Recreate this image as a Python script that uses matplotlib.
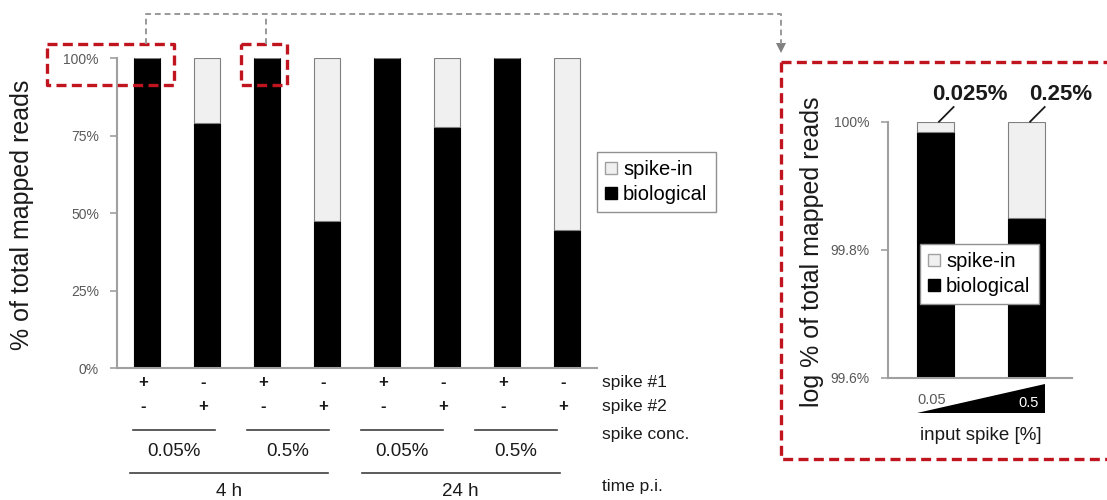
import matplotlib
matplotlib.use("Agg")
import matplotlib.pyplot as plt
from matplotlib.lines import Line2D
from matplotlib.patches import Polygon, Patch
from matplotlib.transforms import blended_transform_factory

plt.rcParams['font.family'] = ['Liberation Sans', 'DejaVu Sans']

# data
biological = [99.98, 79.1, 99.98, 47.4, 99.98, 77.8, 99.98, 44.7]
spike1 = ['+', '-', '+', '-', '+', '-', '+', '-']
spike2 = ['-', '+', '-', '+', '-', '+', '-', '+']
conc_labels = ['0.05%', '0.5%', '0.05%', '0.5%']
time_labels = ['4 h', '24 h']
y_ticks = [0, 25, 50, 75, 100]

inset_bio = [99.984, 99.85]
inset_labels = ['0.025%', '0.25%']
inset_ticks = [99.6, 99.8, 100.0]

W, H = 1107, 500
GREY = '#595959'
SPIKE = '#f0f0f0'
RED = '#c0141e'
INK = '#1a1a1a'

fig = plt.figure(figsize=(W / 100, H / 100), dpi=100)

def fx(x):
    return x / W

def fy(y):
    return 1 - y / H

def style_axis(a):
    a.set_xticks([])
    a.tick_params(axis='y', colors='#a0a0a0', labelcolor=GREY, labelsize=10, length=5,
                  width=1.2, pad=8)
    for s in ['top', 'right']:
        a.spines[s].set_visible(False)
    for s in ['left', 'bottom']:
        a.spines[s].set_color('#a0a0a0')
        a.spines[s].set_linewidth(1.5)

def add_legend(a, x0, y0):
    lg = a.legend(handles=[Patch(facecolor=SPIKE, edgecolor='#a0a0a0', label='spike-in'),
                           Patch(facecolor='black', edgecolor='black', label='biological')],
                  loc='upper left', bbox_to_anchor=(fx(x0), fy(y0)), bbox_transform=fig.transFigure,
                  fontsize=14.5, handlelength=0.6, handleheight=0.6, handletextpad=0.3,
                  fancybox=False, edgecolor='#909090', borderpad=0.4, labelspacing=0.3,
                  borderaxespad=0, framealpha=1)
    lg.get_frame().set_linewidth(1.0)

# ---------------- main chart
ax = fig.add_axes([fx(117), fy(368), fx(597) - fx(117), fy(58.3) - fy(368)])
x = list(range(len(biological)))
spike_in = [100 - b for b in biological]
ax.bar(x, biological, width=0.43, color='black', edgecolor='black', linewidth=0.8, zorder=2)
ax.bar(x, spike_in, width=0.43, bottom=biological, color=SPIKE, edgecolor='#808080',
       linewidth=0.8, zorder=2)
ax.set_xlim(-0.5, 7.5)
ax.set_ylim(0, 100)
ax.set_yticks(y_ticks)
ax.set_yticklabels([f'{t}%' for t in y_ticks])
style_axis(ax)

fig.text(fx(22), fy(215), '% of total mapped reads', rotation=90, ha='center', va='center',
         fontsize=18, color=INK)
add_legend(ax, 597, 152)

# rows under the chart
tr = blended_transform_factory(ax.transData, fig.transFigure)
for i in x:
    ax.text(i - 0.07, fy(383), spike1[i], transform=tr, ha='center', va='center',
            fontsize=12, fontweight='bold', color=INK)
    ax.text(i - 0.07, fy(407), spike2[i], transform=tr, ha='center', va='center',
            fontsize=12, fontweight='bold', color=INK)
for g, lab in enumerate(conc_labels):
    c = 2 * g + 0.5 - 0.1 * g - 0.05
    ax.add_line(Line2D([c - 0.69, c + 0.69], [fy(430), fy(430)], transform=tr,
                       color='#404040', lw=1.2, clip_on=False))
    ax.text(c, fy(451), lab, transform=tr, ha='center', va='center', fontsize=13.5, color=INK)
for g, lab in enumerate(time_labels):
    c = 4 * g + 1.37 - 0.14 * g
    ax.add_line(Line2D([c - 1.65, c + 1.65], [fy(473), fy(473)], transform=tr,
                       color='#404040', lw=1.2, clip_on=False))
    ax.text(c, fy(492), lab, transform=tr, ha='center', va='center', fontsize=13.5, color=INK)

for txt, yy in [('spike #1', 383), ('spike #2', 407), ('spike conc.', 434), ('time p.i.', 487)]:
    fig.text(fx(602), fy(yy), txt, ha='left', va='center', fontsize=12.5, color=INK)

# ---------------- inset
ax2 = fig.add_axes([fx(888), fy(377.7), fx(1072) - fx(888), fy(121.7) - fy(377.7)])
xi = [0, 1]
base = inset_ticks[0]
ax2.bar(xi, [b - base for b in inset_bio], bottom=base, width=0.4, color='black',
        edgecolor='black', linewidth=0.8, zorder=2)
ax2.bar(xi, [100 - b for b in inset_bio], bottom=inset_bio, width=0.4, color=SPIKE,
        edgecolor='#808080', linewidth=0.8, zorder=2)
ax2.set_xlim(-0.52, 1.5)
ax2.set_ylim(inset_ticks[0], inset_ticks[-1])
ax2.set_yticks(inset_ticks)
ax2.set_yticklabels(['99.6%', '99.8%', '100%'])
style_axis(ax2)

fig.text(fx(812), fy(252), 'log % of total mapped reads', rotation=90, ha='center', va='center',
         fontsize=18, color=INK)

tr2 = blended_transform_factory(ax2.transData, fig.transFigure)
for i, lab in enumerate(inset_labels):
    ax2.add_line(Line2D([i + 0.04, i + 0.2], [fy(121.7), fy(107)], transform=tr2,
                        color=INK, lw=1.3, clip_on=False))
    ax2.text(i + 0.38, fy(95), lab, transform=tr2, ha='center', va='center', fontsize=16,
             fontweight='bold', color=INK)

add_legend(ax2, 920, 244)

ax2.add_patch(Polygon([(-0.2, fy(413)), (1.2, fy(413)), (1.2, fy(384))], closed=True,
                      transform=tr2, facecolor='black', edgecolor='none', clip_on=False))
ax2.text(-0.2, fy(400), '0.05', transform=tr2, ha='left', va='center', fontsize=10.5, color=GREY)
ax2.text(1.14, fy(403), '0.5', transform=tr2, ha='right', va='center', fontsize=10.5, color='white')
ax2.text(0.5, fy(436), 'input spike [%]', transform=tr2, ha='center', va='center', fontsize=13.5,
         color=INK)

# ---------------- highlight boxes and connector
def fig_line(xs, ys, **kw):
    fig.add_artist(Line2D([fx(v) for v in xs], [fy(v) for v in ys], transform=fig.transFigure, **kw))

red_kw = dict(color=RED, lw=2.4, linestyle=(0, (3, 1.6)))
fig_line([47, 174, 174, 47, 47], [44, 44, 85, 85, 44], **red_kw)
fig_line([241, 287, 287, 241, 241], [44, 44, 85, 85, 44], **red_kw)
fig_line([781, 781, 1110], [62, 459, 459], **red_kw)
fig_line([781, 1110], [62, 62], **red_kw)

grey_kw = dict(color='#999999', lw=1.4, linestyle=(0, (3, 2)))
fig_line([145.7, 145.7, 781, 781], [44, 14, 14, 44], **grey_kw)
fig_line([265.7, 265.7], [44, 14], **grey_kw)
fig.add_artist(Polygon([(fx(776), fy(43)), (fx(786), fy(43)), (fx(781), fy(53))], closed=True,
                       transform=fig.transFigure, facecolor='#808080', edgecolor='none'))

fig.savefig('out.png', dpi=100)
